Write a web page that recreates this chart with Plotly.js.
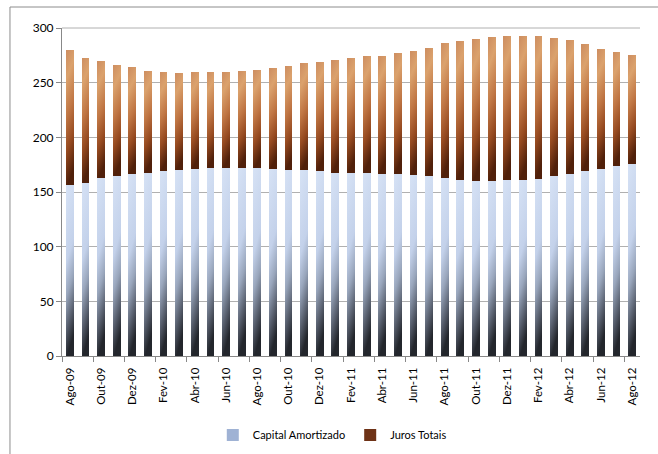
<!DOCTYPE html>
<html>
<head>
<meta charset="utf-8">
<script src="https://cdn.plot.ly/plotly-3.0.1.min.js"></script>
<style>
html,body{margin:0;padding:0;background:#fff;overflow:hidden;}
#chart{width:658px;height:454px;}
</style>
</head>
<body>
<div id="chart"></div>
<script>
const months = ["Ago-09","Set-09","Out-09","Nov-09","Dez-09","Jan-10","Fev-10","Mar-10","Abr-10","Mai-10","Jun-10","Jul-10",
  "Ago-10","Set-10","Out-10","Nov-10","Dez-10","Jan-11","Fev-11","Mar-11","Abr-11","Mai-11","Jun-11","Jul-11",
  "Ago-11","Set-11","Out-11","Nov-11","Dez-11","Jan-12","Fev-12","Mar-12","Abr-12","Mai-12","Jun-12","Jul-12","Ago-12"];
const capitalAmortizado = [156,158.5,162.7,165,166.7,167.6,168.8,169.7,170.6,171.8,171.8,171.8,171.8,170.6,169.7,169.7,168.8,167.6,
  167.6,167.6,166.7,166.7,165.2,164.3,163,161.2,160,160,161.2,161.2,162.1,164.3,166.1,169.1,170.6,173.6,175.8];
const totalMensal = [280,273,270,266.5,264,261,260,259,260,260,260,261,262,263,265,268,269,271,
  273,274.5,274.5,277,279,282,286.5,288.5,289.5,291.5,292.5,292.5,292.5,291,289,285,280.5,278.5,275.5];
const jurosTotais = totalMensal.map((t,i)=>+(t-capitalAmortizado[i]).toFixed(1));
const seriesNames = ["Capital Amortizado","Juros Totais"];

const font = "Lato, 'Open Sans', sans-serif";

const data = [
  {type:"bar", name:seriesNames[0], x:months, y:capitalAmortizado,
   marker:{color:"#9fb2d4", line:{width:0}}, hoverinfo:"x+y"},
  {type:"bar", name:seriesNames[1], x:months, y:jurosTotais,
   marker:{color:"#6e3216", line:{width:0}}, hoverinfo:"x+y"}
];

const layout = {
  width:658, height:454,
  margin:{l:62, r:18, t:28, b:98, pad:0, autoexpand:false},
  barmode:"stack",
  bargap:0.5,
  paper_bgcolor:"#ffffff",
  plot_bgcolor:"#ffffff",
  font:{family:font, size:11, color:"#000"},
  showlegend:true,
  legend:{orientation:"h", xref:"container", yref:"container",
          x:0.505, xanchor:"center", y:0.042, yanchor:"middle",
          font:{family:font, size:11, color:"#000"}, itemwidth:30, traceorder:"normal"},
  xaxis:{type:"category", tickmode:"linear", tick0:0, dtick:2, tickangle:-90,
         tickson:"boundaries", ticks:"outside", ticklen:5, tickcolor:"#888",
         ticklabelstandoff:6, automargin:false,
         showline:true, linecolor:"#888", linewidth:1, showgrid:false,
         tickfont:{family:font, size:11.5, color:"#000"}},
  yaxis:{range:[0,300], tickmode:"linear", tick0:0, dtick:50, automargin:false,
         ticks:"outside", ticklen:5, tickcolor:"#888",
         showline:true, linecolor:"#888", linewidth:1,
         showgrid:true, gridcolor:"#b0b0b0", gridwidth:1, zeroline:false,
         tickfont:{family:font, size:12, color:"#000"}},
  shapes:[
    {type:"rect", xref:"paper", yref:"paper", x0:-0.09, x1:1.3, y0:-0.6, y1:1.064,
     line:{color:"#8c8c8c", width:1}, fillcolor:"rgba(0,0,0,0)", layer:"below"},
    {type:"line", xref:"paper", yref:"paper", x0:0, x1:1, y0:1, y1:1,
     line:{color:"#b0b0b0", width:1}}
  ]
};

function ensureGradients(gd){
  const svg = gd.querySelector("svg.main-svg");
  if(!svg) return;
  let defs = svg.querySelector("defs");
  if(!defs){ defs = document.createElementNS("http://www.w3.org/2000/svg","defs"); svg.insertBefore(defs, svg.firstChild); }
  const specs = {
    gCap:[[0,"#d6e2f5"],[0.45,"#c3d1ea"],[0.65,"#98a5bb"],[0.85,"#545b69"],[1,"#23262c"]],
    gJur:[[0,"#cd8d60"],[0.22,"#dba26d"],[0.5,"#c07644"],[0.75,"#964a20"],[1,"#50200a"]]
  };
  Object.keys(specs).forEach(id=>{
    if(defs.querySelector("#"+id)) return;
    const lg = document.createElementNS("http://www.w3.org/2000/svg","linearGradient");
    lg.setAttribute("id", id);
    lg.setAttribute("x1","0"); lg.setAttribute("y1","0");
    lg.setAttribute("x2","0.15"); lg.setAttribute("y2","1");
    specs[id].forEach(s=>{
      const st = document.createElementNS("http://www.w3.org/2000/svg","stop");
      st.setAttribute("offset", s[0]);
      st.setAttribute("stop-color", s[1]);
      lg.appendChild(st);
    });
    defs.appendChild(lg);
  });
  const traces = gd.querySelectorAll(".barlayer .trace");
  const ids = ["gCap","gJur"];
  traces.forEach((t,i)=>{
    t.querySelectorAll(".point path").forEach(p=>{ p.style.fill = "url(#"+ids[i]+")"; });
  });
}

const gd = document.getElementById("chart");
Plotly.newPlot(gd, data, layout, {displayModeBar:false, staticPlot:true}).then(()=>{
  ensureGradients(gd);
  gd.on && gd.on("plotly_afterplot", ()=>ensureGradients(gd));
});
</script>
</body>
</html>
